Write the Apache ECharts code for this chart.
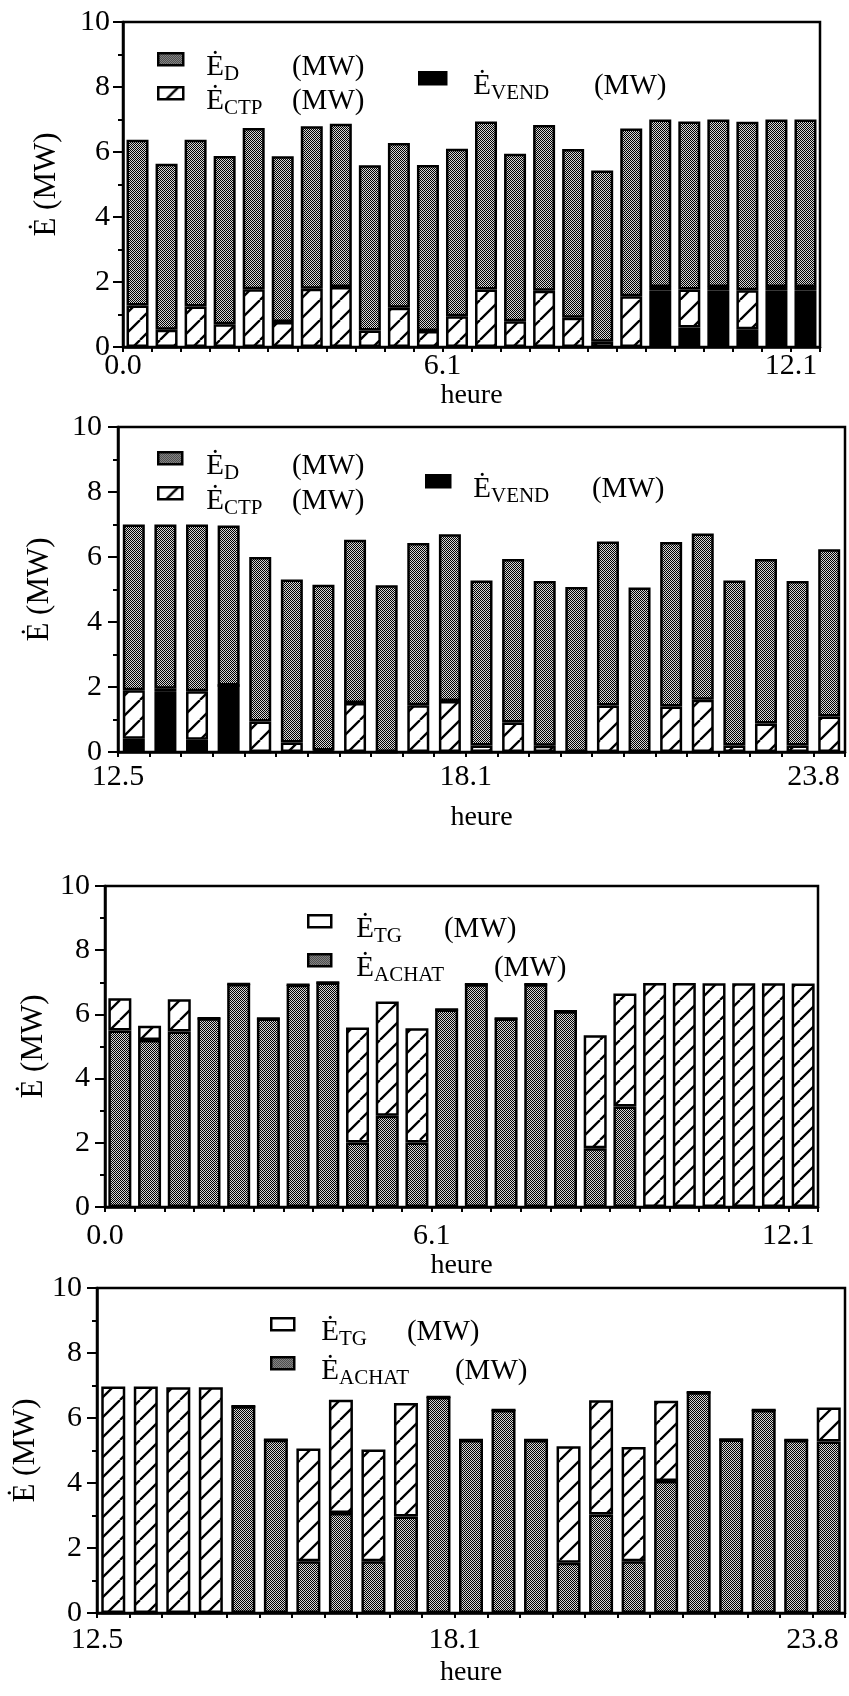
<!DOCTYPE html>
<html>
<head>
<meta charset="utf-8">
<title>E (MW) - heure</title>
<script src="https://cdn.jsdelivr.net/npm/echarts@6/dist/echarts.min.js"></script>
<style>
  html, body { margin: 0; padding: 0; background: #fff; }
  #main { width: 849px; height: 1696px; }
</style>
</head>
<body>
<div id="main"></div>
<script>
// ---- donnees (MW), une barre par demi-heure ----
// panneau 1 : 0.0 -> 12.1 h  (empilement : VEND, CTP, D)
const vend1 = [0, 0, 0, 0, 0, 0, 0, 0, 0, 0, 0, 0, 0, 0, 0, 0, 0, 0, 1.75, 0.6, 1.75, 0.55, 1.75, 1.75];
const ctp1  = [1.28, 0.53, 1.25, 0.7, 1.78, 0.77, 1.79, 1.85, 0.51, 1.21, 0.49, 0.95, 1.77, 0.79, 1.73, 0.9, 0.16, 1.56, 0.1, 1.17, 0.1, 1.2, 0.1, 0.1];
const d1    = [5.1, 5.11, 5.13, 5.18, 4.96, 5.1, 5.0, 5.02, 5.08, 5.07, 5.11, 5.15, 5.17, 5.16, 5.1, 5.19, 5.27, 5.16, 5.15, 5.17, 5.15, 5.18, 5.15, 5.15];
// panneau 2 : 12.5 -> 23.8 h
const vend2 = [0.41, 1.85, 0.38, 2.05, 0, 0, 0, 0, 0, 0, 0, 0, 0, 0, 0, 0, 0, 0, 0, 0, 0, 0, 0];
const ctp2  = [1.49, 0.1, 1.49, 0, 0.94, 0.29, 0.05, 1.51, 0, 1.44, 1.57, 0.2, 0.91, 0.19, 0, 1.43, 0, 1.4, 1.61, 0.2, 0.88, 0.2, 1.09];
const d2    = [5.1, 5.05, 5.13, 4.92, 5.06, 5.02, 5.1, 5.02, 5.13, 4.99, 5.13, 5.08, 5.03, 5.07, 5.08, 5.05, 5.06, 5.06, 5.11, 5.08, 5.06, 5.06, 5.15];
// panneau 3 : 0.0 -> 12.1 h  (empilement : ACHAT, TG)
const achat3 = [5.5, 5.2, 5.47, 5.88, 6.95, 5.87, 6.92, 6.99, 2.01, 2.84, 2.01, 6.15, 6.94, 5.87, 6.94, 6.1, 1.83, 3.13, 0, 0, 0, 0, 0, 0];
const tg3    = [1.0, 0.45, 1.0, 0, 0, 0, 0, 0, 3.58, 3.56, 3.56, 0, 0, 0, 0, 0, 3.52, 3.52, 6.98, 6.98, 6.97, 6.97, 6.97, 6.96];
// panneau 4 : 12.5 -> 23.8 h
const achat4 = [0, 0, 0, 0, 6.36, 5.33, 1.59, 3.08, 1.59, 2.97, 6.65, 5.32, 6.25, 5.32, 1.55, 3.03, 1.59, 4.06, 6.79, 5.34, 6.25, 5.32, 5.28];
const tg4    = [6.97, 6.97, 6.95, 6.95, 0, 0, 3.47, 3.48, 3.44, 3.49, 0, 0, 0, 0, 3.58, 3.52, 3.52, 2.47, 0, 0, 0, 0, 1.04];

// graduations de l'axe des heures (position en demi-heures, texte)
const xTickPosA = [0, 11, 23];
const xTickTxtA = ['0.0', '6.1', '12.1'];
const xTickPosB = [0, 11, 22];
const xTickTxtB = ['12.5', '18.1', '23.8'];

const FONT = 'Liberation Serif';

// motifs : pointille (D / ACHAT) et hachures (CTP / TG)
function makeDots() {
    const c = document.createElement('canvas');
    c.width = 2; c.height = 2;
    const g = c.getContext('2d');
    g.fillStyle = '#d4d4d4';
    g.fillRect(0, 0, 2, 2);
    g.fillStyle = '#000';
    g.fillRect(0, 0, 1, 1);
    g.fillRect(1, 1, 1, 1);
    return c;
}
function makeHatch() {
    const s = 20;
    const c = document.createElement('canvas');
    c.width = s; c.height = s;
    const g = c.getContext('2d');
    g.fillStyle = '#fff';
    g.fillRect(0, 0, s, s);
    g.strokeStyle = '#000';
    g.lineWidth = 2.3;
    g.beginPath();
    [-s, 0, s].forEach(function (k) {
        g.moveTo(k, s);
        g.lineTo(k + s, 0);
    });
    g.stroke();
    return c;
}
const dots = { image: makeDots(), repeat: 'repeat' };
const hatch = { image: makeHatch(), repeat: 'repeat' };

// geometrie des 4 panneaux
const panels = [
    { left: 123, top: 22, width: 697, height: 325, n: 24, pos: xTickPosA, txt: xTickTxtA, bw: 22, lm: 4, ng: 21, ygap: 61, ylm: 13 },
    { left: 118, top: 427, width: 727, height: 325, n: 23, pos: xTickPosB, txt: xTickTxtB, bw: 22, lm: 10, ng: 52, ygap: 63, ylm: 16 },
    { left: 105, top: 886, width: 713, height: 321, n: 24, pos: xTickPosA, txt: xTickTxtA, bw: 23, lm: 14, ng: 45, ygap: 52, ylm: 15 },
    { left: 97, top: 1288, width: 748, height: 325, n: 23, pos: xTickPosB, txt: xTickTxtB, bw: 24, lm: 12, ng: 46, ygap: 50, ylm: 15 }
];

function bars(name, vals, idx, fill) {
    return {
        type: 'bar',
        name: name,
        xAxisIndex: idx * 2,
        yAxisIndex: idx,
        stack: 'p' + idx,
        barWidth: panels[idx].bw,
        data: vals,
        itemStyle: { color: fill, borderColor: '#000', borderWidth: 2.5 },
        emphasis: { disabled: true }
    };
}

// une ligne de legende = un composant legend
function legendRow(name, left, cy, iw, sub, subW, ePad, white) {
    return {
        data: [white ? { name: name, itemStyle: { color: '#fff' } } : name],
        left: left,
        top: cy - 7,
        padding: 0,
        icon: 'rect',
        itemWidth: iw,
        itemHeight: 12,
        selectedMode: false,
        itemStyle: { borderColor: '#000', borderWidth: 2.5 },
        formatter: '{e|Ė}{s|' + sub + '}{m|(MW)}',
        textStyle: {
            padding: [20, 0, 0, 0],
            rich: {
                e: { fontFamily: FONT, fontSize: 29, lineHeight: 32, color: '#000', padding: [0, 0, 2, ePad], verticalAlign: 'top' },
                s: { fontFamily: FONT, fontSize: 21, lineHeight: 22, color: '#000', width: subW, verticalAlign: 'bottom' },
                m: { fontFamily: FONT, fontSize: 29, lineHeight: 32, color: '#000', padding: [0, 0, 2, 0], verticalAlign: 'top' }
            }
        }
    };
}

const xAxes = [];
panels.forEach(function (p, i) {
    // axe de categories (une barre par demi-heure), invisible
    xAxes.push({
        type: 'category', gridIndex: i, position: 'bottom', show: false,
        data: Array.from({ length: p.n }, function (_, k) { return k; })
    });
    // axe des heures : graduations aux limites des barres
    xAxes.push({
        type: 'value', gridIndex: i, position: 'bottom', min: 0, max: p.n, interval: 1,
        axisLine: { lineStyle: { color: '#000', width: 2.5 } },
        axisTick: { show: true, length: 5, lineStyle: { color: '#000', width: 2 } },
        splitLine: { show: false },
        axisLabel: {
            margin: p.lm, color: '#000', fontFamily: FONT, fontSize: 30,
            showMinLabel: true, showMaxLabel: true, hideOverlap: false,
            formatter: function (v) {
                const k = p.pos.indexOf(Math.round(v));
                return k >= 0 ? p.txt[k] : '';
            }
        },
        name: 'heure', nameLocation: 'middle', nameGap: p.ng,
        nameTextStyle: { color: '#000', fontFamily: FONT, fontSize: 28 }
    });
});

const option = {
    animation: false,
    grid: panels.map(function (p) {
        return {
            left: p.left, top: p.top, width: p.width, height: p.height,
            show: true, borderColor: '#000', borderWidth: 2.5,
            backgroundColor: 'rgba(0,0,0,0)', containLabel: false
        };
    }),
    xAxis: xAxes,
    yAxis: panels.map(function (p, i) {
        return {
            type: 'value', gridIndex: i, min: 0, max: 10, interval: 2,
            axisLine: { show: true, lineStyle: { color: '#000', width: 2.5 } },
            axisTick: { show: true, length: 10, lineStyle: { color: '#000', width: 2 } },
            minorTick: { show: true, splitNumber: 2, length: 5, lineStyle: { color: '#000', width: 2 } },
            splitLine: { show: false },
            axisLabel: { margin: p.ylm, color: '#000', fontFamily: FONT, fontSize: 30 },
            name: 'Ė (MW)', nameLocation: 'middle', nameRotate: 90, nameGap: p.ygap,
            nameTextStyle: { color: '#000', fontFamily: FONT, fontSize: 31 }
        };
    }),
    legend: [
        legendRow('ED', 157, 59, 25, 'D', 68, 18),
        legendRow('ECTP', 157, 93, 25, 'CTP', 68, 18),
        legendRow('EVEND', 418, 78, 27, 'VEND', 103, 22),
        legendRow('ED', 157, 458, 24, 'D', 68, 19),
        legendRow('ECTP', 157, 493, 24, 'CTP', 68, 19),
        legendRow('EVEND', 425, 481, 24, 'VEND', 101, 18),
        legendRow('ETG', 307, 921, 23, 'TG', 70, 20, true),
        legendRow('EACHAT', 307, 960, 23, 'ACHAT', 120, 20),
        legendRow('ETG', 270, 1324, 23, 'TG', 68, 22, true),
        legendRow('EACHAT', 270, 1363, 23, 'ACHAT', 116, 22)
    ],
    series: [
        bars('EVEND', vend1, 0, '#000'),
        bars('ECTP', ctp1, 0, hatch),
        bars('ED', d1, 0, dots),
        bars('EVEND', vend2, 1, '#000'),
        bars('ECTP', ctp2, 1, hatch),
        bars('ED', d2, 1, dots),
        bars('EACHAT', achat3, 2, dots),
        bars('ETG', tg3, 2, hatch),
        bars('EACHAT', achat4, 3, dots),
        bars('ETG', tg4, 3, hatch)
    ]
};

const myChart = echarts.init(document.getElementById('main'));
myChart.setOption(option);
window.onresize = function () {
    myChart.resize();
};
</script>
</body>
</html>
